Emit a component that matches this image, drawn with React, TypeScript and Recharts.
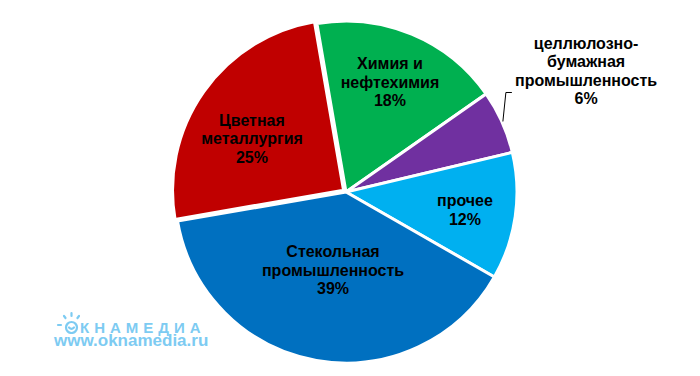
import React from "react";
import { PieChart, Pie, Cell } from "recharts";

const categories = [
  "Химия и\nнефтехимия",
  "целлюлозно-\nбумажная\nпромышленность",
  "прочее",
  "Стекольная\nпромышленность",
  "Цветная\nметаллургия",
];
const shares = [18, 6, 12, 39, 25];
const colors = ["#00B050", "#7030A0", "#00B0F0", "#0070C0", "#C00000"];

const data = categories.map((name, i) => ({ name, value: shares[i] }));

const RAD = Math.PI / 180;
const CX = 346;
const CY = 192;
const R = 171;
const START = 99.8;
const EXPLODED = 4; // index of the slightly pulled-out slice
const labelFactor = [0.695, 1.573, 0.703, 0.46, 0.633];
const labelAngleNudge = [0.9, 2.6, -0.2, 0.5, 5.5]; // degrees (math direction)

const FONT = "'Liberation Sans', Arial, sans-serif";

const renderLabel = (props: any) => {
  const { cx, cy, midAngle, outerRadius, index, name, value } = props;
  const f = labelFactor[index];
  const a = midAngle + labelAngleNudge[index];
  const x = cx + outerRadius * f * Math.cos(-a * RAD);
  const y = cy + outerRadius * f * Math.sin(-a * RAD);
  const lines = [...String(name).split("\n"), `${value}%`];
  const lh = 18.5;
  const y0 = y - ((lines.length - 1) * lh) / 2;
  let leader = null;
  if (f > 1) {
    const sx = cx + (outerRadius + 1) * Math.cos(-midAngle * RAD);
    const sy = cy + (outerRadius + 1) * Math.sin(-midAngle * RAD);
    const ex = sx + 3;
    const ey = sy - 29;
    leader = (
      <polyline
        points={`${sx},${sy} ${ex},${ey} ${ex + 6},${ey}`}
        fill="none"
        stroke="#000"
        strokeWidth={1}
      />
    );
  }
  return (
    <g key={`lbl-${index}`}>
      {leader}
      <text
        x={x}
        y={y0}
        textAnchor="middle"
        dominantBaseline="central"
        fontFamily={FONT}
        fontWeight="bold"
        fontSize={16}
        fill="#000"
      >
        {lines.map((l, i) => (
          <tspan key={i} x={x} dy={i === 0 ? 0 : lh}>
            {l}
          </tspan>
        ))}
      </text>
    </g>
  );
};

const midOfExploded = () => {
  const total = shares.reduce((a, b) => a + b, 0);
  let acc = 0;
  for (let i = 0; i < EXPLODED; i++) acc += shares[i];
  return START - ((acc + shares[EXPLODED] / 2) / total) * 360;
};

export default function App() {
  const m = midOfExploded();
  const off = 3;
  const ecx = CX + off * Math.cos(m * RAD);
  const ecy = CY - off * Math.sin(m * RAD);
  const margin = { top: 0, right: 0, bottom: 0, left: 0 };
  return (
    <div
      style={{
        position: "absolute",
        left: 0,
        top: 0,
        width: 700,
        height: 376,
        background: "#fff",
      }}
    >
      <PieChart width={700} height={376} margin={margin}>
        <Pie
          data={data}
          dataKey="value"
          nameKey="name"
          cx={ecx}
          cy={ecy}
          outerRadius={R}
          startAngle={START}
          endAngle={START - 360}
          stroke="#fff"
          strokeWidth={3}
          isAnimationActive={false}
        >
          {data.map((d, i) => (
            <Cell
              key={`e-${i}`}
              fill={i === EXPLODED ? colors[i] : "transparent"}
              stroke={i === EXPLODED ? "#fff" : "none"}
            />
          ))}
        </Pie>
        <Pie
          data={data}
          dataKey="value"
          nameKey="name"
          cx={CX}
          cy={CY}
          outerRadius={R}
          startAngle={START}
          endAngle={START - 360}
          stroke="#fff"
          strokeWidth={3}
          label={renderLabel}
          labelLine={false}
          isAnimationActive={false}
        >
          {data.map((d, i) => (
            <Cell
              key={`c-${i}`}
              fill={i === EXPLODED ? "transparent" : colors[i]}
              stroke={i === EXPLODED ? "none" : "#fff"}
            />
          ))}
        </Pie>
      </PieChart>
      <svg
        width={24}
        height={24}
        style={{ position: "absolute", left: 56, top: 310 }}
      >
        <g stroke="#7DCBF2" strokeWidth={2.2} fill="none" strokeLinecap="round">
          <circle cx={15.5} cy={17.5} r={5.5} />
          <path d="M13 17.5 Q15.5 20 18 17.5" />
          <line x1={15.5} y1={3} x2={15.5} y2={6} />
          <line x1={8} y1={6} x2={9.5} y2={8} />
          <line x1={23} y1={6} x2={21.5} y2={8} />
          <line x1={2} y1={15} x2={5} y2={15} />
        </g>
      </svg>
      <div
        style={{
          position: "absolute",
          left: 80,
          top: 322,
          color: "#7DCBF2",
          fontFamily: FONT,
          fontWeight: "bold",
          fontSize: 15,
          letterSpacing: 5,
          lineHeight: "11px",
          whiteSpace: "nowrap",
        }}
      >
        КНАМЕДИА
      </div>
      <div
        style={{
          position: "absolute",
          left: 54,
          top: 334,
          color: "#7DCBF2",
          fontFamily: FONT,
          fontWeight: "bold",
          fontSize: 17,
          lineHeight: "14px",
          whiteSpace: "nowrap",
        }}
      >
        www.oknamedia.ru
      </div>
    </div>
  );
}
